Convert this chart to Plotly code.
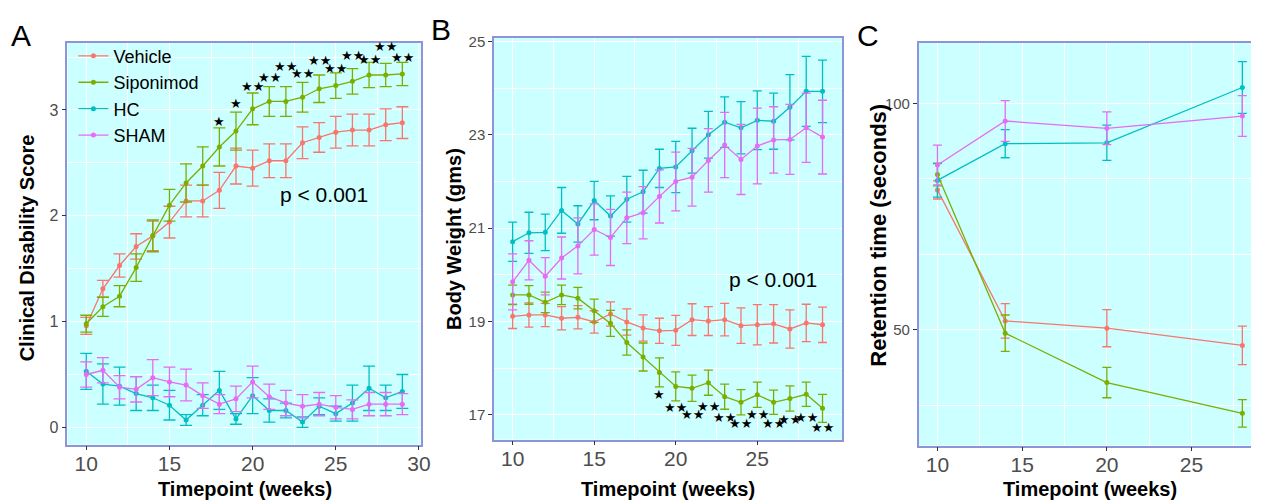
import plotly.graph_objects as go

W, H = 1261, 500

# ---------------- Data ----------------
groups = ["Vehicle", "Siponimod", "HC", "SHAM"]
colors = {"Vehicle": "#F8766D", "Siponimod": "#7CAE00", "HC": "#00BFC4", "SHAM": "#E76BF3"}

# Panel A: clinical disability score
weeks_a = list(range(10, 30))
a_vehicle = [0.96, 1.31, 1.53, 1.71, 1.81, 1.94, 2.14, 2.14, 2.24, 2.47, 2.45, 2.52, 2.52, 2.69, 2.74, 2.79, 2.81, 2.81, 2.86, 2.88]
a_vehicle_err = [0.08, 0.08, 0.11, 0.12, 0.14, 0.15, 0.15, 0.15, 0.17, 0.17, 0.17, 0.16, 0.16, 0.15, 0.14, 0.15, 0.15, 0.15, 0.15, 0.15]
a_sipo = [0.98, 1.14, 1.24, 1.51, 1.81, 2.10, 2.31, 2.47, 2.65, 2.80, 3.01, 3.08, 3.08, 3.12, 3.20, 3.23, 3.27, 3.33, 3.33, 3.34]
a_sipo_err = [0.08, 0.09, 0.10, 0.13, 0.15, 0.15, 0.18, 0.18, 0.18, 0.18, 0.15, 0.14, 0.14, 0.14, 0.13, 0.12, 0.12, 0.12, 0.11, 0.11]
a_hc = [0.53, 0.41, 0.39, 0.32, 0.28, 0.21, 0.07, 0.21, 0.35, 0.08, 0.30, 0.16, 0.16, 0.05, 0.20, 0.13, 0.23, 0.37, 0.28, 0.34]
a_hc_err = [0.17, 0.19, 0.18, 0.16, 0.12, 0.14, 0.05, 0.10, 0.18, 0.05, 0.17, 0.11, 0.07, 0.05, 0.08, 0.07, 0.17, 0.21, 0.12, 0.16]
a_sham = [0.50, 0.54, 0.38, 0.36, 0.47, 0.43, 0.40, 0.30, 0.22, 0.27, 0.43, 0.29, 0.23, 0.20, 0.22, 0.19, 0.17, 0.22, 0.22, 0.22]
a_sham_err = [0.12, 0.12, 0.11, 0.12, 0.17, 0.14, 0.15, 0.12, 0.09, 0.12, 0.15, 0.12, 0.12, 0.11, 0.11, 0.11, 0.09, 0.11, 0.11, 0.10]
a_star_x = [18, 19, 20, 21, 22, 23, 24, 25, 26, 27, 28, 29]
a_star_y = [2.89, 3.06, 3.22, 3.31, 3.41, 3.34, 3.47, 3.39, 3.51, 3.48, 3.60, 3.50]
a_star_text = ["★", "★", "★★", "★★", "★★", "★★", "★★", "★★", "★★", "★★", "★★", "★★"]

# Panel B: body weight
weeks_b = list(range(10, 30))
b_vehicle = [19.11, 19.14, 19.14, 19.07, 19.09, 18.99, 19.16, 18.99, 18.86, 18.80, 18.81, 19.04, 19.01, 19.04, 18.91, 18.93, 18.95, 18.84, 18.97, 18.93]
b_vehicle_err = [0.26, 0.26, 0.25, 0.25, 0.25, 0.24, 0.26, 0.28, 0.28, 0.27, 0.32, 0.34, 0.31, 0.35, 0.38, 0.43, 0.41, 0.41, 0.40, 0.38]
b_sipo = [19.57, 19.57, 19.41, 19.57, 19.50, 19.23, 18.96, 18.55, 18.24, 17.91, 17.61, 17.57, 17.69, 17.39, 17.27, 17.43, 17.27, 17.35, 17.44, 17.14]
b_sipo_err = [0.21, 0.20, 0.22, 0.21, 0.23, 0.25, 0.28, 0.27, 0.30, 0.31, 0.31, 0.28, 0.27, 0.27, 0.27, 0.27, 0.26, 0.27, 0.26, 0.30]
b_hc = [20.71, 20.90, 20.91, 21.38, 21.09, 21.59, 21.26, 21.62, 21.78, 22.28, 22.31, 22.66, 23.00, 23.27, 23.15, 23.31, 23.29, 23.59, 23.93, 23.93]
b_hc_err = [0.42, 0.44, 0.39, 0.49, 0.39, 0.41, 0.43, 0.49, 0.46, 0.41, 0.55, 0.48, 0.50, 0.54, 0.56, 0.63, 0.60, 0.70, 0.75, 0.67]
b_sham = [19.85, 20.31, 19.97, 20.36, 20.62, 20.97, 20.80, 21.22, 21.33, 21.68, 22.00, 22.09, 22.45, 22.78, 22.47, 22.76, 22.89, 22.90, 23.15, 22.95]
b_sham_err = [0.60, 0.42, 0.40, 0.45, 0.60, 0.55, 0.60, 0.55, 0.56, 0.57, 0.63, 0.62, 0.68, 0.70, 0.75, 0.81, 0.71, 0.75, 0.74, 0.79]
b_star_x = [19, 20, 21, 22, 23, 24, 25, 26, 27, 28, 29]
b_star_y = [17.43, 17.16, 17.00, 17.19, 16.94, 16.81, 17.00, 16.81, 16.90, 16.94, 16.72]
b_star_text = ["★", "★★", "★★", "★★", "★★", "★★", "★★", "★★", "★★", "★★", "★★"]

# Panel C: retention time
weeks_c = [10, 14, 20, 28]
c_vehicle = [80.9, 52.0, 50.4, 46.6]
c_vehicle_err = [2.0, 3.8, 4.1, 4.25]
c_sipo = [84.3, 49.3, 38.4, 31.6]
c_sipo_err = [2.5, 4.0, 3.35, 3.05]
c_hc = [83.0, 91.1, 91.3, 103.5]
c_hc_err = [3.7, 3.1, 3.9, 5.7]
c_sham = [86.4, 96.1, 94.5, 97.2]
c_sham_err = [4.4, 4.5, 3.6, 4.5]

panel_labels = ["A", "B", "C"]
y_titles = ["Clinical Disability Score", "Body Weight (gms)", "Retention time (seconds)"]
x_title = "Timepoint (weeks)"
p_text = "p < 0.001"

# ---------------- Style ----------------
BG = "#CCFFFF"
BORDER = "#8E94DA"
TICKC = "#4D4D4D"
FONT = "Liberation Sans, Arial, sans-serif"


def px(x):
    return x / W


def py(y):
    return 1 - y / H


fig = go.Figure()

panels = [
    ("x", "y", weeks_a, [(a_vehicle, a_vehicle_err), (a_sipo, a_sipo_err), (a_hc, a_hc_err), (a_sham, a_sham_err)], 6),
    ("x2", "y2", weeks_b, [(b_vehicle, b_vehicle_err), (b_sipo, b_sipo_err), (b_hc, b_hc_err), (b_sham, b_sham_err)], 4.5),
    ("x3", "y3", weeks_c, [(c_vehicle, c_vehicle_err), (c_sipo, c_sipo_err), (c_hc, c_hc_err), (c_sham, c_sham_err)], 4.5),
]

for pi, (xa, ya, wk, series, capw) in enumerate(panels):
    for g, (vals, errs) in zip(groups, series):
        fig.add_trace(go.Scatter(
            x=wk, y=vals, xaxis=xa, yaxis=ya, name=g,
            mode="lines+markers",
            line=dict(color=colors[g], width=1.3),
            marker=dict(color=colors[g], size=5),
            error_y=dict(type="data", array=errs, visible=True, color=colors[g], thickness=1.3, width=capw),
            showlegend=(pi == 0), legendgroup=g,
        ))

common_axis = dict(
    showgrid=True, gridcolor="white", gridwidth=1.1, zeroline=False,
    showline=True, linecolor=BORDER, linewidth=1.5,
    ticks="outside", ticklen=4, tickwidth=1, tickcolor="#333333",
)
x_common = dict(common_axis, ticklabelstandoff=-5)

layout = dict(
    width=W, height=H, margin=dict(l=0, r=0, t=0, b=0),
    paper_bgcolor="white", plot_bgcolor=BG,
    font=dict(family=FONT, color="black"),
    showlegend=True,
    legend=dict(x=px(74), y=py(33), xanchor="left", yanchor="top",
                bgcolor="rgba(0,0,0,0)", font=dict(size=18, family=FONT, color="black"),
                tracegroupgap=0, itemwidth=30),
)

# Panel A axes
layout["xaxis"] = dict(x_common, domain=[px(68), px(424)], range=[8.87, 30.1], anchor="y",
                       tickvals=[10, 15, 20, 25, 30], mirror=True,
                       tickfont=dict(size=21, color=TICKC, family=FONT),
                       minor=dict(tickvals=[12.5, 17.5, 22.5, 27.5], showgrid=True, gridcolor="white", gridwidth=0.6, ticks=""))
layout["yaxis"] = dict(common_axis, domain=[py(444), py(38)], range=[-0.162, 3.636], anchor="x",
                       tickvals=[0, 1, 2, 3], mirror=True,
                       tickfont=dict(size=16, color=TICKC, family=FONT),
                       minor=dict(tickvals=[0.5, 1.5, 2.5, 3.5], showgrid=True, gridcolor="white", gridwidth=0.6, ticks=""))
# Panel B axes
layout["xaxis2"] = dict(x_common, domain=[px(498), px(849)], range=[8.86, 30.21], anchor="y2",
                        tickvals=[10, 15, 20, 25], mirror=True,
                        tickfont=dict(size=21, color=TICKC, family=FONT),
                        minor=dict(tickvals=[12.5, 17.5, 22.5, 27.5], showgrid=True, gridcolor="white", gridwidth=0.6, ticks=""))
layout["yaxis2"] = dict(common_axis, domain=[py(439), py(33)], range=[16.47, 25.08], anchor="x2",
                        tickvals=[17, 19, 21, 23, 25], mirror=True,
                        tickfont=dict(size=15, color=TICKC, family=FONT),
                        minor=dict(tickvals=[18, 20, 22, 24], showgrid=True, gridcolor="white", gridwidth=0.6, ticks=""))
# Panel C axes
layout["xaxis3"] = dict(x_common, domain=[px(926), 1.0], range=[8.89, 28.51], anchor="y3",
                        tickvals=[10, 15, 20, 25], mirror=True,
                        tickfont=dict(size=21, color=TICKC, family=FONT),
                        minor=dict(tickvals=[12.5, 17.5, 22.5, 27.5], showgrid=True, gridcolor="white", gridwidth=0.6, ticks=""))
layout["yaxis3"] = dict(common_axis, domain=[py(445), py(38)], range=[24.5, 113.4], anchor="x3",
                        tickvals=[50, 100], mirror=False,
                        tickfont=dict(size=15, color=TICKC, family=FONT),
                        minor=dict(tickvals=[33.33, 66.67, 83.33], showgrid=True, gridcolor="white", gridwidth=0.8, ticks=""))

fig.update_layout(**layout)

ann = []
# Panel letters
for lab, (cx, cy) in zip(panel_labels, [(21, 31), (445, 25), (875, 31)]):
    ann.append(dict(text=lab, x=px(cx), y=py(cy), xref="paper", yref="paper", showarrow=False,
                    xanchor="center", yanchor="middle", font=dict(size=30, family=FONT, color="black")))
# Y titles
for t, (cx, cy), fs in zip(y_titles, [(27, 245), (457, 236), (886, 232)], [20, 20, 22]):
    ann.append(dict(text=t, x=px(cx), y=py(cy), xref="paper", yref="paper", showarrow=False, textangle=-90,
                    xanchor="center", yanchor="middle", font=dict(size=fs, family=FONT, color="black", weight="bold")))
# X titles
for cx in [247, 673, 1099]:
    ann.append(dict(text=x_title, x=px(cx), y=py(489), xref="paper", yref="paper", showarrow=False,
                    xanchor="center", yanchor="middle", font=dict(size=20, family=FONT, color="black", weight="bold")))
# p-values
ann.append(dict(text=p_text, x=24.3, y=2.2, xref="x", yref="y", showarrow=False,
                font=dict(size=21, family=FONT, color="black")))
ann.append(dict(text=p_text, x=25.97, y=19.9, xref="x2", yref="y2", showarrow=False,
                font=dict(size=21, family=FONT, color="black")))
# significance stars
for sx, sy, st in zip(a_star_x, a_star_y, a_star_text):
    ann.append(dict(text=st, x=sx, y=sy, xref="x", yref="y", showarrow=False,
                    font=dict(size=13, family="DejaVu Sans", color="black")))
for sx, sy, st in zip(b_star_x, b_star_y, b_star_text):
    ann.append(dict(text=st, x=sx, y=sy, xref="x2", yref="y2", showarrow=False,
                    font=dict(size=13, family="DejaVu Sans", color="black")))

fig.update_layout(annotations=ann)

fig.write_html("out.html", config={"displayModeBar": False},
               post_script="document.body.style.margin='0';document.body.style.overflow='hidden';")
